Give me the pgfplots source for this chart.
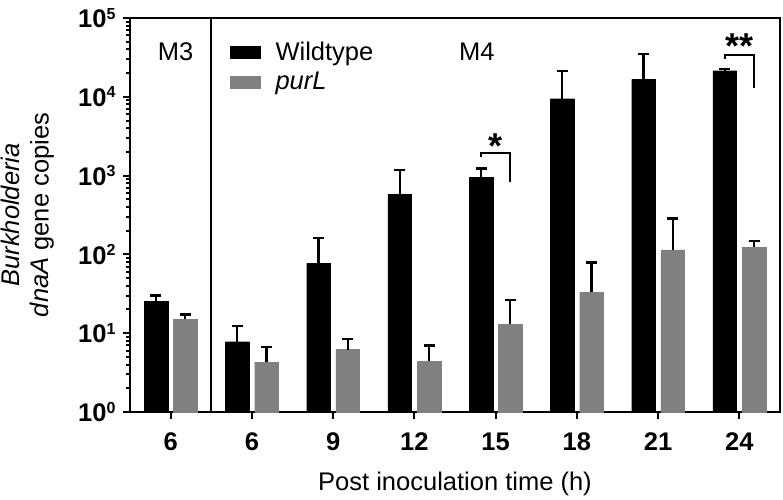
\documentclass[border=0pt]{standalone}
\usepackage{pgfplots}
\pgfplotsset{compat=1.18}
\usepackage{pgfplotstable}
\usepackage{fontspec}
\setmainfont{Liberation Sans}
\newcommand{\fs}{\fontsize{25.5}{30}\selectfont}
\newcommand{\tp}[1]{\textbf{10}\raisebox{8.5pt}{\fontsize{16}{16}\selectfont\bfseries #1}}
\definecolor{pgray}{RGB}{128,128,128}
\pgfplotstableread{
x wt wterr pl plerr
0 25.6 4.3 15.0 2.2
1 7.8 4.5 4.3 2.4
2 77 84 6.2 2.2
3 584 594 4.4 2.6
4 951 287 13.0 13.4
5 9460 11790 33.0 45.5
6 16700 18250 114 173
7 21430 1110 123 26
}\data
\begin{document}
\begin{tikzpicture}
\useasboundingbox (-130pt,-87pt) rectangle (653pt,412pt);
\begin{axis}[
  scale only axis, width=650pt, height=394pt,
  ymode=log, ymin=1, ymax=1e5, xmin=-0.5, xmax=7.5,
  axis line style={line width=2pt},
  tick style={line width=2pt, black},
  tick align=outside, major tick length=7pt, minor tick length=4pt,
  xtick pos=left, ytick pos=left,
  xtick={0,1,2,3,4,5,6,7}, xticklabels={6,6,9,12,15,18,21,24},
  ytick={1,10,100,1000,10000,100000},
  yticklabels={\tp{0},\tp{1},\tp{2},\tp{3},\tp{4},\tp{5}},
  minor ytick={2,3,4,5,6,7,8,9,20,30,40,50,60,70,80,90,200,300,400,500,600,700,800,900,2000,3000,4000,5000,6000,7000,8000,9000,20000,30000,40000,50000,60000,70000,80000,90000},
  ticklabel style={font=\fs\bfseries},
  xticklabel style={yshift=-10pt},
  yticklabel style={xshift=-4pt},
  xlabel={Post inoculation time (h)},
  xlabel style={font=\fs, yshift=-15pt},
  ylabel={\textit{Burkholderia}\\\textit{dnaA} gene copies},
  ylabel style={font=\fontsize{25.5}{29}\selectfont, align=center, at={(rel axis cs:0,0.5)}, anchor=south, inner sep=0pt, yshift=76pt},
  legend style={at={(rel axis cs:0.1538,0.939)}, anchor=north west, draw=none, fill=none,
    font=\fs, inner sep=0pt, nodes={inner sep=0pt}, row sep=10pt, column sep=15pt},
  legend cell align=left,
]
\addplot[ybar, bar width=0.29, bar shift=0, fill=black, draw=black,
  legend image code/.code={\fill[black] (0pt,-6pt) rectangle (30pt,6pt);},
  error bars/.cd, y dir=plus, y explicit,
  error bar style={line width=2.2pt, black},
  error mark options={rotate=90, line width=2.5pt, mark size=5.5pt, black}]
  table[x expr=\thisrow{x}-0.18, y=wt, y error=wterr] {\data};
\addplot[ybar, bar width=0.29, bar shift=0, fill=pgray, draw=pgray,
  legend image code/.code={\fill[pgray] (0pt,-6pt) rectangle (30pt,6pt);},
  error bars/.cd, y dir=plus, y explicit,
  error bar style={line width=2.2pt, black},
  error mark options={rotate=90, line width=2.5pt, mark size=5.5pt, black}]
  table[x expr=\thisrow{x}+0.18, y=pl, y error=plerr] {\data};
\legend{Wildtype, \textit{purL}}
\draw[line width=2pt] (axis cs:0.5,1) -- (axis cs:0.5,100000);
\draw[line width=2pt] (axis cs:3.82,1723) -- (axis cs:3.82,1935) -- (axis cs:4.18,1935) -- (axis cs:4.18,830);
\draw[line width=2pt] (axis cs:6.82,30400) -- (axis cs:6.82,34100) -- (axis cs:7.18,34100) -- (axis cs:7.18,13060);
\node[font=\fontsize{36}{36}\selectfont\bfseries, anchor=base] at (axis cs:4,1672) {*};
\node[font=\fontsize{36}{36}\selectfont\bfseries, anchor=base] at (axis cs:7,30200) {**};
\node[font=\fs] at (axis cs:0.06,37060) {M3};
\node[font=\fs] at (axis cs:3.77,37060) {M4};
\end{axis}
\end{tikzpicture}
\end{document}
